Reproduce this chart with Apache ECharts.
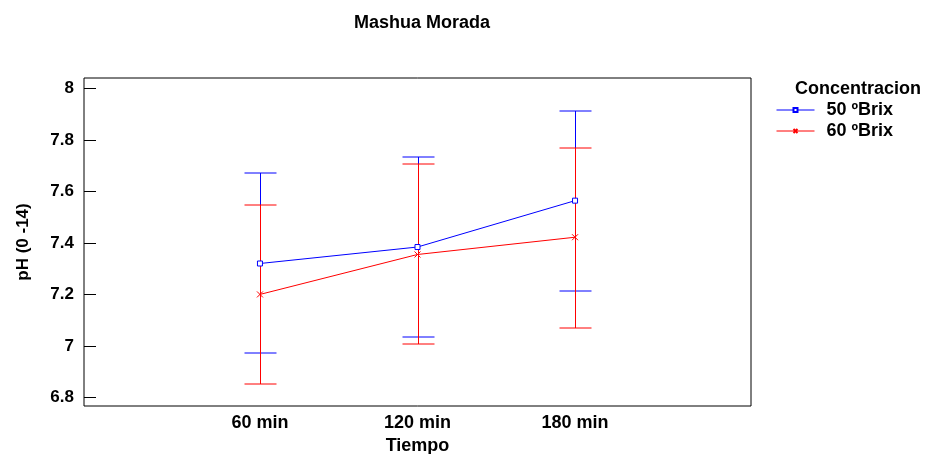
<!DOCTYPE html>
<html>
<head>
<meta charset="utf-8">
<script src="https://cdn.jsdelivr.net/npm/echarts@6/dist/echarts.min.js"></script>
<style>
  html, body { margin: 0; padding: 0; background: #fff; }
  #chart { width: 925px; height: 454px; }
</style>
</head>
<body>
<div id="chart"></div>
<script>
// Tiempo categories (placed at x = 1, 2, 3)
const tiempos = ['60 min', '120 min', '180 min'];
const posiciones = [1, 2, 3];

// 50 ºBrix: mean pH with interval limits
const media50 = [7.320, 7.384, 7.564];
const inf50 = [6.972, 7.034, 7.213];
const sup50 = [7.671, 7.735, 7.912];

// 60 ºBrix: mean pH with interval limits
const media60 = [7.200, 7.355, 7.422];
const inf60 = [6.851, 7.008, 7.071];
const sup60 = [7.548, 7.706, 7.768];

// pH axis ticks
const ticksPH = [6.8, 7.0, 7.2, 7.4, 7.6, 7.8, 8.0];
const etiquetasPH = ['6.8', '7', '7.2', '7.4', '7.6', '7.8', '8'];

const FONT = 'Arial, "Liberation Sans", sans-serif';
const AZUL = '#0000ff';
const ROJO = '#ff0000';

function barras(lo, hi) {
  return posiciones.map((x, i) => [x, lo[i], hi[i]]);
}
function puntos(m) {
  return posiciones.map((x, i) => [x, m[i]]);
}

// vertical interval bar with caps; stem snapped to the pixel grid
function dibujaBarra(color) {
  return function (params, api) {
    const x = api.value(0);
    const a = api.coord([x, api.value(1)]);
    const b = api.coord([x, api.value(2)]);
    const px = Math.round(a[0]) + 0.5;
    const ya = Math.round(a[1]);
    const yb = Math.round(b[1]);
    const w = 16;
    const st = { stroke: color, lineWidth: 1 };
    return {
      type: 'group',
      children: [
        { type: 'line', shape: { x1: px, y1: ya, x2: px, y2: yb }, style: st },
        { type: 'line', shape: { x1: px - w, y1: ya, x2: px + w, y2: ya }, style: st },
        { type: 'line', shape: { x1: px - w, y1: yb, x2: px + w, y2: yb }, style: st }
      ]
    };
  };
}

const chart = echarts.init(document.getElementById('chart'), null, { renderer: 'canvas' });

chart.setOption({
  animation: false,
  backgroundColor: '#fff',
  title: {
    text: 'Mashua Morada',
    left: 417, top: 9,
    textAlign: 'center',
    textStyle: { fontFamily: FONT, fontSize: 18, fontWeight: 'bold', color: '#000' }
  },
  graphic: [{
    type: 'text',
    left: 795, top: 80,
    style: { text: 'Concentracion', font: 'bold 18px ' + FONT, fill: '#000' }
  }],
  legend: {
    orient: 'vertical',
    left: 776, top: 101,
    padding: 0,
    itemWidth: 38, itemHeight: 5,
    itemGap: 3,
    lineStyle: { width: 1 },
    textStyle: { fontFamily: FONT, fontSize: 18, fontWeight: 'bold', color: '#000', padding: [0, 0, 0, 7] },
    data: ['50 ºBrix', '60 ºBrix']
  },
  grid: {
    left: 84, right: 174, top: 78, bottom: 48,
    outerBoundsMode: 'none',
    containLabel: false,
    show: true, borderColor: '#000', borderWidth: 1, backgroundColor: 'transparent'
  },
  xAxis: {
    type: 'value',
    min: -0.117, max: 4.117,
    name: 'Tiempo',
    nameLocation: 'middle',
    nameGap: 30,
    nameTextStyle: { fontFamily: FONT, fontSize: 18, fontWeight: 'bold', color: '#000' },
    axisLine: { show: false, onZero: false },
    axisTick: { show: false },
    splitLine: { show: false },
    axisLabel: {
      customValues: posiciones,
      formatter: v => tiempos[Math.round(v) - 1] || '',
      margin: 8,
      fontFamily: FONT, fontSize: 18, fontWeight: 'bold', color: '#000'
    }
  },
  yAxis: {
    type: 'value',
    min: 6.767, max: 8.04,
    name: 'pH (0 -14)',
    nameLocation: 'middle',
    nameGap: 52,
    nameRotate: 90,
    nameTextStyle: { fontFamily: FONT, fontSize: 17, fontWeight: 'bold', color: '#000' },
    axisLine: { show: false, onZero: false },
    splitLine: { show: false },
    axisTick: {
      show: true, inside: true, length: 12,
      customValues: ticksPH,
      lineStyle: { color: '#000', width: 1 }
    },
    axisLabel: {
      customValues: ticksPH,
      formatter: v => {
        const i = ticksPH.findIndex(t => Math.abs(t - v) < 1e-6);
        return i >= 0 ? etiquetasPH[i] : '';
      },
      margin: 10,
      fontFamily: FONT, fontSize: 17, fontWeight: 'bold', color: '#000'
    }
  },
  series: [
    {
      name: 'intervalo 50',
      type: 'custom',
      renderItem: dibujaBarra(AZUL),
      data: barras(inf50, sup50),
      z: 2,
      silent: true
    },
    {
      name: 'intervalo 60',
      type: 'custom',
      renderItem: dibujaBarra(ROJO),
      data: barras(inf60, sup60),
      z: 3,
      silent: true
    },
    {
      name: '50 ºBrix',
      type: 'line',
      data: puntos(media50),
      symbol: 'rect',
      symbolSize: 5,
      color: AZUL,
      lineStyle: { color: AZUL, width: 1 },
      itemStyle: { color: '#fff', borderColor: AZUL, borderWidth: 1 },
      z: 4
    },
    {
      name: '60 ºBrix',
      type: 'line',
      data: puntos(media60),
      symbol: 'path://M0,0L10,10M10,0L0,10',
      symbolSize: 6,
      color: ROJO,
      lineStyle: { color: ROJO, width: 1 },
      itemStyle: { color: 'none', borderColor: ROJO, borderWidth: 1 },
      z: 5
    }
  ]
});
</script>
</body>
</html>
